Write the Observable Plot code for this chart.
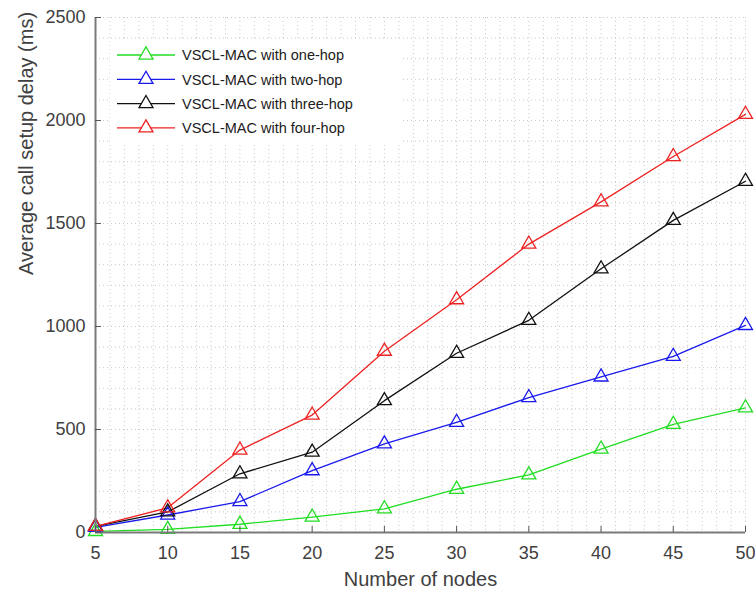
<!DOCTYPE html>
<html>
<head>
<meta charset="utf-8">
<script src="https://cdn.jsdelivr.net/npm/d3@7"></script>
<script src="https://cdn.jsdelivr.net/npm/@observablehq/plot@0.6"></script>
<style>
  html, body { margin: 0; padding: 0; background: #fff; }
  #chart { position: relative; width: 755px; height: 594px; }
  #chart svg { font-family: "Liberation Sans", Arial, sans-serif; }
</style>
</head>
<body>
<div id="chart"></div>
<script>
const nodes = [5, 10, 15, 20, 25, 30, 35, 40, 45, 50];
const seriesNames = ["VSCL-MAC with one-hop", "VSCL-MAC with two-hop", "VSCL-MAC with three-hop", "VSCL-MAC with four-hop"];
const seriesColors = ["#22dd22", "#1a1aee", "#111111", "#ee2222"];
const oneHop   = [5, 15, 40, 75, 115, 210, 280, 405, 525, 605];
const twoHop   = [25, 85, 150, 300, 430, 535, 655, 755, 855, 1005];
const threeHop = [30, 100, 285, 390, 640, 870, 1030, 1280, 1515, 1705];
const fourHop  = [30, 120, 400, 570, 880, 1130, 1400, 1605, 1825, 2030];
const xTicks = [5, 10, 15, 20, 25, 30, 35, 40, 45, 50];
const yTicks = [0, 500, 1000, 1500, 2000, 2500];
const xMinor = d3.range(5, 51, 1);
const yMinor = d3.range(0, 2501, 100);

const allSeries = [oneHop, twoHop, threeHop, fourHop];
const data = [];
allSeries.forEach((vals, i) => {
  vals.forEach((v, j) => data.push({series: seriesNames[i], x: nodes[j], y: v}));
});

const color = {domain: seriesNames, range: seriesColors};

const plot = Plot.plot({
  width: 755,
  height: 594,
  marginLeft: 95,
  marginRight: 10,
  marginTop: 17,
  marginBottom: 62,
  style: {fontFamily: "Liberation Sans, Arial, sans-serif", color: "#404040", background: "white"},
  x: {domain: [5, 50], ticks: xTicks, label: null},
  y: {domain: [0, 2500], ticks: yTicks, label: null},
  color: color,
  marks: [
    Plot.ruleX(xMinor, {stroke: "#c8c8c8", strokeDasharray: "1,3", strokeWidth: 1}),
    Plot.ruleY(yMinor, {stroke: "#c8c8c8", strokeDasharray: "1,3", strokeWidth: 1}),
    Plot.line(data, {x: "x", y: "y", z: "series", stroke: "series", strokeWidth: 1.3}),
    Plot.dot(data, {x: "x", y: "y", stroke: "series", symbol: "triangle", r: 5.2, fill: "none", strokeWidth: 1.3}),
    Plot.ruleY([0], {stroke: "#7a7a7a", strokeWidth: 2}),
    Plot.ruleX([5], {stroke: "#7a7a7a", strokeWidth: 2}),
    Plot.axisX({ticks: xTicks, tickSize: -6, tickPadding: 20, fontSize: 18, stroke: "#555", tickFormat: "d", label: null}),
    Plot.axisY({ticks: yTicks, tickSize: -6, tickPadding: 16, fontSize: 18, stroke: "#555", tickFormat: "d", label: null}),
    Plot.text(["Number of nodes"], {frameAnchor: "bottom", dy: 53, fontSize: 20, fill: "#404040"}),
    Plot.text(["Average call setup delay (ms)"], {frameAnchor: "left", dx: -69, rotate: -90, fontSize: 20, fill: "#404040"})
  ]
});
document.getElementById("chart").appendChild(plot);

// legend overlay (inside the axes, upper-left)
const svg = d3.select(plot);
const lg = svg.append("g").attr("transform", "translate(110,40)").attr("text-anchor", "start");
lg.append("rect").attr("x", 0).attr("y", 0).attr("width", 290).attr("height", 103).attr("fill", "white");
seriesNames.forEach((name, i) => {
  const cy = 15 + i * 24.3;
  const g = lg.append("g").attr("transform", `translate(0,${cy})`);
  g.append("line").attr("x1", 7).attr("x2", 65).attr("y1", 0).attr("y2", 0)
    .attr("stroke", seriesColors[i]).attr("stroke-width", 1.3);
  g.append("path").attr("d", d3.symbol(d3.symbolTriangle, 5.2 * 5.2 * Math.PI)())
    .attr("transform", "translate(36,0)")
    .attr("fill", "white").attr("stroke", seriesColors[i]).attr("stroke-width", 1.3);
  g.append("text").attr("x", 72).attr("y", 0).attr("dy", "0.36em")
    .attr("text-anchor", "start")
    .attr("font-size", 14.5).attr("fill", "#202020").text(name);
});
</script>
</body>
</html>
